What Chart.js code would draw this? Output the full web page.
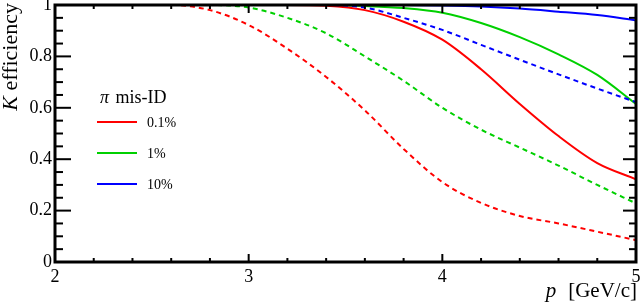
<!DOCTYPE html>
<html>
<head>
<meta charset="utf-8">
<script src="https://cdn.jsdelivr.net/npm/chart.js@4.4.0/dist/chart.umd.min.js"></script>
<style>
html,body{margin:0;padding:0;background:#fff;}
</style>
</head>
<body>
<canvas id="myChart" width="640" height="305"></canvas>
<script>
// momentum p [GeV/c]
const pValues = [2.0, 2.2, 2.4, 2.6, 2.8, 3.0, 3.2, 3.4, 3.6, 3.8, 4.0, 4.2, 4.4, 4.6, 4.8, 5.0];
// K efficiency, solid and dashed curve for each pi mis-ID level
const redSolid    = [1, 1, 1, 1, 1, 1, 1, 0.997, 0.98, 0.935, 0.865, 0.75, 0.615, 0.49, 0.385, 0.322];
const redDashed   = [1, 1, 1, 1, 0.98, 0.922, 0.83, 0.72, 0.59, 0.44, 0.311, 0.23, 0.179, 0.15, 0.118, 0.085];
const greenSolid  = [1, 1, 1, 1, 1, 1, 1, 1, 0.996, 0.988, 0.97, 0.93, 0.875, 0.808, 0.728, 0.615];
const greenDashed = [1, 1, 1, 1, 1, 0.99, 0.95, 0.89, 0.80, 0.705, 0.60, 0.515, 0.445, 0.375, 0.30, 0.228];
const blueSolid   = [1, 1, 1, 1, 1, 1, 1, 1, 1, 1, 0.998, 0.994, 0.986, 0.974, 0.961, 0.94];
const blueDashed  = [1, 1, 1, 1, 1, 1, 1, 1, 0.99, 0.95, 0.903, 0.845, 0.787, 0.73, 0.675, 0.622];

const legendLabels = ['0.1%', '1%', '10%'];
const RED = '#ff0000', GREEN = '#00d000', BLUE = '#0000ff';
const FONT = "'Liberation Serif', 'DejaVu Serif', serif";
Chart.defaults.font.family = FONT;

function mkSet(label, ys, color, dashed) {
    return {
        label: label,
        data: pValues.map((x, i) => ({x: x, y: ys[i]})),
        borderColor: color,
        borderWidth: 2,
        borderDash: dashed ? [5, 4] : [],
        pointRadius: 0,
        fill: false,
        cubicInterpolationMode: 'monotone'
    };
}

// ROOT style frame, inward ticks, legend and axis titles
const rootFrame = {
    id: 'rootFrame',
    afterDatasetsDraw(chart) {
        const ctx = chart.ctx, a = chart.chartArea;
        const xs = chart.scales.x, ys = chart.scales.y;
        const line = (x1, y1, x2, y2) => { ctx.beginPath(); ctx.moveTo(x1, y1); ctx.lineTo(x2, y2); ctx.stroke(); };
        ctx.save();
        ctx.strokeStyle = '#000';
        ctx.lineWidth = 2;
        for (let i = 0; i <= 15; i++) {
            const px = xs.getPixelForValue(2 + i * 0.2);
            const major = i % 5 === 0;
            line(px, a.bottom, px, a.bottom - (major ? 8 : 4));
            line(px, a.top, px, a.top + (major ? 8 : 4));
        }
        for (let i = 0; i <= 20; i++) {
            const py = ys.getPixelForValue(i * 0.05);
            const major = i % 4 === 0;
            line(a.left, py, a.left + (major ? 16 : 8), py);
            line(a.right, py, a.right - (major ? 13 : 7), py);
        }
        ctx.lineWidth = 3;
        ctx.strokeRect(a.left, a.top, a.right - a.left, a.bottom - a.top);
        ctx.restore();
    },
    afterDraw(chart) {
        const ctx = chart.ctx;
        ctx.save();
        ctx.fillStyle = '#000';
        ctx.textBaseline = 'alphabetic';

        // legend
        ctx.font = 'italic 18px ' + FONT;
        ctx.textAlign = 'left';
        ctx.fillText('\u03c0', 100, 103);
        const wpi = ctx.measureText('\u03c0 ').width;
        ctx.font = '18px ' + FONT;
        ctx.fillText('mis-ID', 100 + wpi + 2, 103);
        const cols = [RED, GREEN, BLUE];
        ctx.font = '14px ' + FONT;
        ctx.textBaseline = 'middle';
        legendLabels.forEach((t, i) => {
            const y = 122 + i * 31;
            ctx.strokeStyle = cols[i];
            ctx.lineWidth = 2;
            ctx.beginPath(); ctx.moveTo(97, y); ctx.lineTo(137, y); ctx.stroke();
            ctx.fillText(t, 147, y + 1);
        });

        // x title
        ctx.textBaseline = 'alphabetic';
        ctx.font = '21px ' + FONT;
        ctx.textAlign = 'right';
        ctx.fillText('[GeV/c]', 637, 297);
        const wu = ctx.measureText('[GeV/c]').width;
        ctx.font = 'italic 21px ' + FONT;
        ctx.fillText('p', 637 - wu - 12, 297);

        // y title
        ctx.font = 'italic 22px ' + FONT;
        const wk = ctx.measureText('K ').width;
        ctx.font = '22px ' + FONT;
        const we = ctx.measureText('efficiency').width;
        ctx.translate(17, 3 + wk + we);
        ctx.rotate(-Math.PI / 2);
        ctx.textAlign = 'left';
        ctx.font = 'italic 22px ' + FONT;
        ctx.fillText('K', 0, 0);
        ctx.font = '22px ' + FONT;
        ctx.fillText('efficiency', wk, 0);
        ctx.restore();
    }
};

document.addEventListener('DOMContentLoaded', function () {
    const ctx = document.getElementById('myChart').getContext('2d');
    new Chart(ctx, {
        type: 'line',
        data: {
            datasets: [
                mkSet('0.1% dashed', redDashed, RED, true),
                mkSet('1% dashed', greenDashed, GREEN, true),
                mkSet('10% dashed', blueDashed, BLUE, true),
                mkSet('0.1%', redSolid, RED, false),
                mkSet('1%', greenSolid, GREEN, false),
                mkSet('10%', blueSolid, BLUE, false)
            ]
        },
        options: {
            responsive: false,
            animation: false,
            layout: {padding: {top: 5, right: 4, left: 0, bottom: 0}},
            plugins: {legend: {display: false}, tooltip: {enabled: false}},
            scales: {
                x: {
                    type: 'linear',
                    min: 2, max: 5,
                    grid: {display: false, drawTicks: false},
                    border: {display: false},
                    ticks: {stepSize: 1, padding: 4, color: '#000', maxRotation: 0,
                            font: {family: FONT, size: 18}},
                    afterFit(s) { s.height = 43; s.paddingLeft = 0; s.paddingRight = 0; }
                },
                y: {
                    min: 0, max: 1,
                    grid: {display: false, drawTicks: false},
                    border: {display: false},
                    ticks: {stepSize: 0.2, padding: 3, color: '#000',
                            font: {family: FONT, size: 18},
                            callback: v => String(Number(v.toFixed(2)))},
                    afterFit(s) { s.width = 55; s.paddingTop = 0; s.paddingBottom = 0; }
                }
            }
        },
        plugins: [rootFrame]
    });
});
</script>
</body>
</html>
